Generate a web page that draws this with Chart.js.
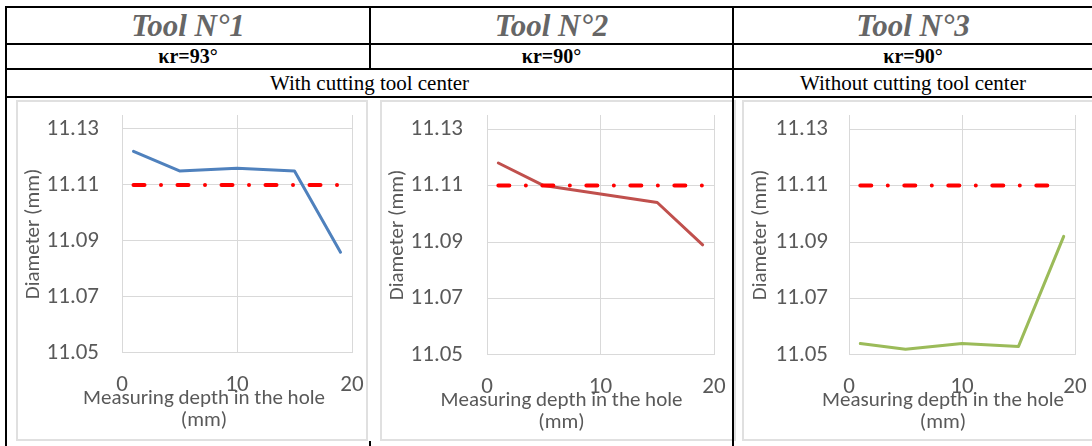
<!DOCTYPE html>
<html>
<head>
<meta charset="utf-8">
<script src="https://cdn.jsdelivr.net/npm/chart.js@4.4.1/dist/chart.umd.min.js"></script>
<style>
html,body{margin:0;padding:0;background:#fff;}
#page{position:relative;width:1092px;height:446px;overflow:hidden;background:#fff;}
.ln{position:absolute;background:#000;}
.cell{position:absolute;text-align:center;white-space:nowrap;}
.tool{font-family:"Liberation Serif","Times New Roman",serif;font-style:italic;font-weight:bold;font-size:31px;color:#666;top:8px;height:35px;line-height:35px;}
.kr{font-family:"Liberation Serif","Times New Roman",serif;font-weight:bold;font-size:20px;color:#000;top:45px;height:23px;line-height:23px;}
.mode{font-family:"Liberation Serif","Times New Roman",serif;font-size:21px;color:#000;top:70px;height:26px;line-height:26px;}
.box{position:absolute;border:2px solid #e0e0e0;box-sizing:border-box;background:#fff;}
canvas{position:absolute;}
</style>
</head>
<body>
<div id="page">
  <div class="box" style="left:16px;top:100px;width:352px;height:341px;"></div>
  <div class="box" style="left:380px;top:100px;width:356px;height:341px;"></div>
  <div class="box" style="left:742px;top:100px;width:360px;height:341px;"></div>

  <div class="ln" style="left:5px;top:6px;width:1087px;height:2px;"></div>
  <div class="ln" style="left:5px;top:43px;width:1087px;height:2px;"></div>
  <div class="ln" style="left:5px;top:68px;width:1087px;height:2px;"></div>
  <div class="ln" style="left:5px;top:96px;width:1087px;height:2px;"></div>
  <div class="ln" style="left:5px;top:6px;width:2px;height:440px;"></div>
  <div class="ln" style="left:369px;top:6px;width:2px;height:64px;"></div>
  <div class="ln" style="left:369px;top:441px;width:2px;height:5px;"></div>
  <div class="ln" style="left:732px;top:6px;width:2px;height:440px;"></div>

  <div id="t1" class="cell tool" style="left:7px;width:362px;"></div>
  <div id="t2" class="cell tool" style="left:371px;width:361px;"></div>
  <div id="t3" class="cell tool" style="left:734px;width:358px;"></div>
  <div id="k1" class="cell kr" style="left:7px;width:362px;"></div>
  <div id="k2" class="cell kr" style="left:371px;width:361px;"></div>
  <div id="k3" class="cell kr" style="left:734px;width:358px;"></div>
  <div id="g1" class="cell mode" style="left:7px;width:725px;"></div>
  <div id="g2" class="cell mode" style="left:734px;width:358px;"></div>

  <canvas id="c1" width="366" height="340" style="left:21px;top:101px;"></canvas>
  <canvas id="c2" width="353" height="340" style="left:385px;top:101px;"></canvas>
  <canvas id="c3" width="390" height="340" style="left:748px;top:101px;"></canvas>
</div>
<script>
// ---- data ----
const depthMm = [1, 5, 10, 15, 19];
const tool1Diameter = [11.122, 11.115, 11.116, 11.115, 11.086];
const tool2Diameter = [11.118, 11.110, 11.107, 11.104, 11.089];
const tool3Diameter = [11.054, 11.052, 11.054, 11.053, 11.092];
const nominalDepthA = [1, 19];
const nominalDepthB = [1, 18];
const nominalDiameter = [11.11, 11.11];
const yTicks = [11.05, 11.07, 11.09, 11.11, 11.13];
const xTicks = [0, 10, 20];
const toolTitles = ['Tool N°1', 'Tool N°2', 'Tool N°3'];
const kappaLabels = ['κr=93°', 'κr=90°', 'κr=90°'];
const groupLabels = ['With cutting tool center', 'Without cutting tool center'];
const yTitle = 'Diameter (mm)';
const xTitle = ['Measuring depth in the hole', '(mm)'];

// ---- header text ----
['t1','t2','t3'].forEach((id,i)=>document.getElementById(id).textContent = toolTitles[i]);
['k1','k2','k3'].forEach((id,i)=>document.getElementById(id).textContent = kappaLabels[i]);
['g1','g2'].forEach((id,i)=>document.getElementById(id).textContent = groupLabels[i]);

// ---- charts ----
const FONT = 'Calibri, Carlito, Lato, sans-serif';
const TXT = '#595959';
const GRID = '#d9d9d9';
const CLEAR = 'rgba(0,0,0,0)';

function makeChart(id, series, color, nomX, L) {
  return new Chart(document.getElementById(id), {
    type: 'scatter',
    data: {
      datasets: [
        {
          label: 'Nominal', xAxisID: 'x', yAxisID: 'y',
          data: nomX.map((x, i) => ({x: x, y: nominalDiameter[i]})),
          showLine: true, borderColor: '#ff0000', backgroundColor: '#ff0000',
          borderWidth: 4, borderDash: [11, 16.5, 0, 16.5], borderCapStyle: 'round',
          pointRadius: 0, order: 0
        },
        {
          label: 'Measured', xAxisID: 'x', yAxisID: 'y',
          data: depthMm.map((x, i) => ({x: x, y: series[i]})),
          showLine: true, borderColor: color, backgroundColor: color,
          borderWidth: 3, borderJoinStyle: 'round', borderCapStyle: 'round',
          pointRadius: 0, order: 1
        }
      ]
    },
    options: {
      responsive: false,
      animation: false,
      events: [],
      layout: {padding: {left: 0, right: 0, top: 14, bottom: L.padB}},
      plugins: {
        legend: {display: false},
        tooltip: {enabled: false},
        title: {
          display: true, position: 'bottom', align: 'center', text: xTitle, color: TXT,
          font: {family: FONT, size: 21, weight: 'normal', lineHeight: 1.05},
          padding: {top: -10, bottom: 0}
        }
      },
      scales: {
        x: {
          type: 'linear', position: 'bottom', min: 0, max: 20,
          afterBuildTicks: s => { s.ticks = xTicks.map(v => ({value: v})); },
          ticks: {padding: 0, color: TXT, font: {family: FONT, size: 23}, maxRotation: 0, autoSkip: false},
          grid: {color: GRID, drawTicks: true, tickLength: 19, tickColor: CLEAR, lineWidth: 1},
          border: {color: GRID, width: 1},
          afterFit: s => { s.height = 45; }
        },
        y: {
          type: 'linear', position: 'left', min: 11.05, max: 11.135,
          afterBuildTicks: s => { s.ticks = yTicks.map(v => ({value: v})); },
          ticks: {padding: 0, color: TXT, font: {family: FONT, size: 23}, callback: v => Number(v).toFixed(2)},
          grid: {color: GRID, drawTicks: true, tickLength: L.tickGap, tickColor: CLEAR, lineWidth: 1},
          border: {color: GRID, width: 1},
          title: {display: true, text: yTitle, color: TXT, font: {family: FONT, size: 21}, padding: {top: 0, bottom: 0}},
          afterFit: s => { s.width = L.yWidth; }
        },
        yRight: {
          type: 'linear', position: 'right', display: true,
          ticks: {display: false},
          grid: {display: false, drawTicks: false},
          border: {display: false},
          afterFit: s => { s.width = L.rightWidth; }
        }
      }
    }
  });
}

makeChart('c1', tool1Diameter, '#4F81BD', nominalDepthA, {padB: 9, yWidth: 101, rightWidth: 35, tickGap: 23});
makeChart('c2', tool2Diameter, '#C0504D', nominalDepthA, {padB: 7, yWidth: 102, rightWidth: 24, tickGap: 24});
makeChart('c3', tool3Diameter, '#9BBB59', nominalDepthB, {padB: 7, yWidth: 101, rightWidth: 63, tickGap: 21});
</script>
</body>
</html>
